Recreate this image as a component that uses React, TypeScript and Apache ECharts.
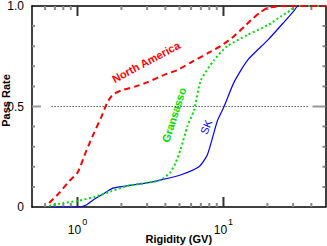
import React, { useEffect, useRef } from "react";
import * as echarts from "echarts";

// Rigidity (GV) and pass-rate values
const naRigidity = [0.64, 0.75, 0.88, 1.0, 1.15, 1.3, 1.46, 1.6, 1.75, 2.0, 2.5, 3.0, 4.0, 4.8, 6.0, 7.8, 10, 11.8, 14, 16, 18, 20, 25, 50];
const naPass = [0.02, 0.07, 0.13, 0.17, 0.28, 0.37, 0.45, 0.52, 0.56, 0.58, 0.6, 0.62, 0.66, 0.68, 0.72, 0.765, 0.81, 0.85, 0.9, 0.94, 0.97, 0.99, 1.0, 1.0];

const gsRigidity = [0.64, 0.8, 1.0, 1.3, 1.67, 2.2, 3.0, 3.7, 4.3, 4.7, 5.07, 5.65, 6.27, 7.0, 8.6, 10.6, 14.6, 20.1, 25, 29, 31, 50];
const gsPass = [0.005, 0.02, 0.03, 0.05, 0.076, 0.105, 0.12, 0.134, 0.17, 0.22, 0.284, 0.4, 0.48, 0.63, 0.73, 0.8, 0.856, 0.905, 0.95, 0.98, 1.0, 1.0];

const skRigidity = [0.64, 1.0, 1.15, 1.28, 1.5, 1.75, 2.18, 3.0, 3.69, 5.07, 6.79, 7.76, 9.1, 10.1, 11.8, 14.6, 20.1, 26, 30.7, 32.3, 50];
const skPass = [0, 0, 0.01, 0.035, 0.065, 0.094, 0.105, 0.12, 0.134, 0.159, 0.2, 0.26, 0.43, 0.5, 0.62, 0.73, 0.83, 0.92, 0.98, 1.0, 1.0];

const refRigidity = [0.665, 38];
const refPass = [0.5, 0.5];

const xMin = 0.488;
const xMax = 50;
const majorTicks = [1, 10];
const minorTicks = [0.6, 0.7, 0.8, 0.9, 2, 3, 4, 5, 6, 7, 8, 9, 20, 30, 40];
const yLabelTicks = [0, 0.5, 1];
const yMinorTicks = [0.1, 0.2, 0.3, 0.4, 0.6, 0.7, 0.8, 0.9];
const yMidTicks = [0.5];

const FONT = "'Liberation Sans', Arial, Helvetica, sans-serif";
const lg = (v: number) => Math.log10(v);
const pairs = (xs: number[], ys: number[]) => xs.map((x, i) => [lg(x), ys[i]]);

// tick lengths in axis units (plot is 201 px tall, 145.6 px per decade)
const PX_Y = 1 / 201;
const PX_X = 1 / 145.6;
const GAP = ["-", "-"];

const xTickSegments = (vals: number[], lenPx: number) => {
  const out: any[] = [];
  vals.forEach((v) => {
    const x = lg(v);
    out.push([x, 0], [x, lenPx * PX_Y], GAP, [x, 1], [x, 1 - lenPx * PX_Y], GAP);
  });
  return out;
};
const yTickSegments = (vals: number[], leftPx: number, rightPx: number) => {
  const out: any[] = [];
  const a = lg(xMin);
  const b = lg(xMax);
  vals.forEach((v) => {
    out.push([a, v], [a + leftPx * PX_X, v], GAP, [b, v], [b - rightPx * PX_X, v], GAP);
  });
  return out;
};

export default function App() {
  const ref = useRef<HTMLDivElement>(null);
  useEffect(() => {
    if (!ref.current) return;
    const chart = echarts.init(ref.current, undefined, { renderer: "svg" });

    const tickSeries = (name: string, data: any[], color: string, width: number) => ({
      name,
      type: "line",
      data,
      showSymbol: false,
      connectNulls: false,
      silent: true,
      clip: false,
      lineStyle: { color, width },
      z: 1,
    });

    const option: any = {
      animation: false,
      backgroundColor: "#fff",
      grid: [{ left: 32, top: 6, width: 293.5, height: 201, containLabel: false, outerBoundsMode: "none" }],
      xAxis: [
        {
          type: "value",
          position: "bottom",
          min: lg(xMin),
          max: lg(xMax),
          splitLine: { show: false },
          axisLine: { show: true, onZero: false, lineStyle: { color: "#000", width: 1.5 } },
          axisTick: { show: false },
          axisLabel: {
            show: true,
            customValues: majorTicks.map(lg),
            margin: 6,
            formatter: (v: number) => `{b|10}{s|${Math.round(v)}}`,
            rich: {
              b: { fontFamily: FONT, fontSize: 12, color: "#000", height: 18, verticalAlign: "bottom", padding: [4, 0, 0, 0] },
              s: { fontFamily: FONT, fontSize: 9, color: "#000", height: 18, verticalAlign: "top", padding: [0, 0, 8, 1] },
            },
          },
          name: "Rigidity (GV)",
          nameLocation: "middle",
          nameGap: 26,
          nameMoveOverlap: false,
          nameTextStyle: { fontFamily: FONT, fontSize: 11, fontWeight: "bold", color: "#000" },
        },
        {
          type: "value",
          position: "top",
          min: lg(xMin),
          max: lg(xMax),
          splitLine: { show: false },
          axisLine: { show: true, onZero: false, lineStyle: { color: "#000", width: 1.5 } },
          axisTick: { show: false },
          axisLabel: { show: false },
        },
      ],
      yAxis: [
        {
          type: "value",
          position: "left",
          min: 0,
          max: 1,
          splitLine: { show: false },
          axisLine: { show: true, onZero: false, lineStyle: { color: "#000", width: 1.5 } },
          axisTick: { show: false },
          axisLabel: {
            show: true,
            customValues: yLabelTicks,
            margin: 8,
            fontFamily: FONT,
            fontSize: 12,
            color: "#000",
            formatter: (v: number) => (v === 0 ? "0" : v.toFixed(1)),
          },
          name: "Pass Rate",
          nameLocation: "middle",
          nameGap: 21,
          nameRotate: 90,
          nameMoveOverlap: false,
          nameTextStyle: { fontFamily: FONT, fontSize: 11, fontWeight: "bold", color: "#000", padding: [0, 0, 0, 12] },
        },
        {
          type: "value",
          position: "right",
          min: 0,
          max: 1,
          splitLine: { show: false },
          axisLine: { show: true, onZero: false, lineStyle: { color: "#000", width: 1.5 } },
          axisTick: { show: false },
          axisLabel: { show: false },
        },
      ],
      series: [
        tickSeries("majorTicks", xTickSegments(majorTicks, 10), "#333", 2),
        tickSeries("minorTicks", xTickSegments(minorTicks, 4), "#888", 2),
        tickSeries("yMinorTicks", yTickSegments(yMinorTicks, 3, 3), "#888", 2),
        tickSeries("yMidTicks", yTickSegments(yMidTicks, 9, 13), "#999", 2),
        {
          name: "Reference",
          type: "line",
          data: pairs(refRigidity, refPass),
          showSymbol: false,
          lineStyle: { color: "#000", width: 1, type: [1, 2] },
          z: 2,
        },
        {
          name: "SK",
          type: "line",
          data: pairs(skRigidity, skPass),
          showSymbol: false,
          smooth: 0.2,
          lineStyle: { color: "#0000ff", width: 1.2 },
          z: 3,
        },
        {
          name: "Gransasso",
          type: "line",
          data: pairs(gsRigidity, gsPass),
          showSymbol: false,
          smooth: 0.2,
          lineStyle: { color: "#00e000", width: 2, type: [2, 2.5] },
          z: 4,
        },
        {
          name: "North America",
          type: "line",
          data: pairs(naRigidity, naPass),
          showSymbol: false,
          smooth: 0.2,
          lineStyle: { color: "#ff0000", width: 2, type: [6, 4] },
          z: 5,
        },
      ],
      graphic: [
        {
          type: "text",
          x: 146,
          y: 62,
          rotation: (28 * Math.PI) / 180,
          style: { text: "North America", fill: "#ff0000", font: `bold 11px ${FONT}`, align: "center", verticalAlign: "middle" },
        },
        {
          type: "text",
          x: 174,
          y: 115,
          rotation: (72 * Math.PI) / 180,
          style: { text: "Gransasso", fill: "#00dd00", font: `bold 11px ${FONT}`, align: "center", verticalAlign: "middle" },
        },
        {
          type: "text",
          x: 206,
          y: 127,
          rotation: (68 * Math.PI) / 180,
          style: { text: "SK", fill: "#0000ff", font: `11px ${FONT}`, align: "center", verticalAlign: "middle" },
        },
      ],
    };
    chart.setOption(option);
    return () => chart.dispose();
  }, []);
  return (
    <div style={{ position: "absolute", left: 0, top: 0 }}>
      <div ref={ref} style={{ width: 327, height: 246 }} />
    </div>
  );
}
